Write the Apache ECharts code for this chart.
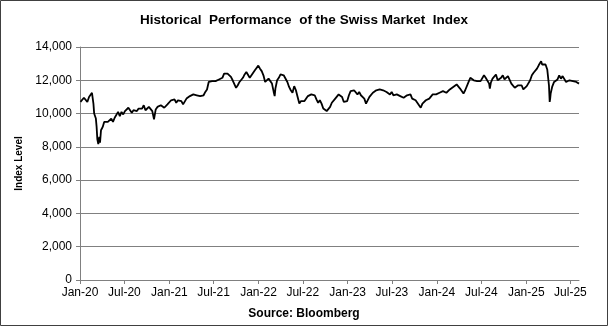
<!DOCTYPE html>
<html><head><meta charset="utf-8">
<script src="https://cdn.jsdelivr.net/npm/echarts@6/dist/echarts.min.js"></script>
<style>html,body{margin:0;padding:0;background:#fff}#c{width:608px;height:326px}</style>
</head><body><div id="c"></div>
<script>
const dates = [
'2020-01-03','2020-01-10','2020-01-17','2020-01-24','2020-01-31','2020-02-07','2020-02-14','2020-02-19','2020-02-21','2020-02-25','2020-02-28',
'2020-03-03','2020-03-06','2020-03-09','2020-03-12','2020-03-16','2020-03-18','2020-03-20','2020-03-23','2020-03-27',
'2020-04-03','2020-04-09','2020-04-17','2020-04-24','2020-05-01','2020-05-08','2020-05-15','2020-05-22','2020-05-29',
'2020-06-05','2020-06-12','2020-06-19','2020-06-26','2020-07-03','2020-07-10','2020-07-17','2020-07-24','2020-07-31',
'2020-08-07','2020-08-14','2020-08-21','2020-08-28','2020-09-04','2020-09-11','2020-09-18','2020-09-25',
'2020-10-02','2020-10-09','2020-10-16','2020-10-23','2020-10-30','2020-11-06','2020-11-13','2020-11-20','2020-11-27',
'2020-12-04','2020-12-11','2020-12-18','2020-12-24',
'2021-01-08','2021-01-15','2021-01-22','2021-01-29','2021-02-05','2021-02-12','2021-02-19','2021-02-26',
'2021-03-05','2021-03-12','2021-03-19','2021-03-26','2021-04-02','2021-04-09','2021-04-16','2021-04-23','2021-04-30',
'2021-05-07','2021-05-14','2021-05-21','2021-05-28','2021-06-04','2021-06-11','2021-06-18','2021-06-25',
'2021-07-02','2021-07-09','2021-07-16','2021-07-23','2021-07-30','2021-08-06','2021-08-13','2021-08-20','2021-08-27',
'2021-09-03','2021-09-10','2021-09-17','2021-09-24','2021-10-01','2021-10-08','2021-10-15','2021-10-22','2021-10-29',
'2021-11-05','2021-11-12','2021-11-19','2021-11-26','2021-12-03','2021-12-10','2021-12-17','2021-12-24','2021-12-31',
'2022-01-07','2022-01-14','2022-01-21','2022-01-28','2022-02-04','2022-02-11','2022-02-18','2022-02-25',
'2022-03-04','2022-03-08','2022-03-11','2022-03-18','2022-03-25','2022-04-01','2022-04-08','2022-04-14','2022-04-22','2022-04-29',
'2022-05-06','2022-05-13','2022-05-20','2022-05-27','2022-06-03','2022-06-10','2022-06-17','2022-06-24',
'2022-07-01','2022-07-08','2022-07-15','2022-07-22','2022-07-29','2022-08-05','2022-08-12','2022-08-19','2022-08-26',
'2022-09-02','2022-09-09','2022-09-16','2022-09-23','2022-09-30','2022-10-07','2022-10-13','2022-10-21','2022-10-28',
'2022-11-04','2022-11-11','2022-11-18','2022-11-25','2022-12-02','2022-12-09','2022-12-16','2022-12-23','2022-12-30',
'2023-01-06','2023-01-13','2023-01-20','2023-01-27','2023-02-03','2023-02-10','2023-02-17','2023-02-24',
'2023-03-03','2023-03-10','2023-03-17','2023-03-24','2023-03-31','2023-04-07','2023-04-14','2023-04-21','2023-04-28',
'2023-05-05','2023-05-12','2023-05-19','2023-05-26','2023-06-02','2023-06-09','2023-06-16','2023-06-23','2023-06-30',
'2023-07-07','2023-07-14','2023-07-21','2023-07-28','2023-08-04','2023-08-11','2023-08-18','2023-08-25',
'2023-09-01','2023-09-08','2023-09-15','2023-09-22','2023-09-29','2023-10-06','2023-10-13','2023-10-20','2023-10-27',
'2023-11-03','2023-11-10','2023-11-17','2023-11-24','2023-12-01','2023-12-08','2023-12-15','2023-12-22','2023-12-29',
'2024-01-05','2024-01-12','2024-01-19','2024-01-26','2024-02-02','2024-02-09','2024-02-16','2024-02-23',
'2024-03-01','2024-03-08','2024-03-15','2024-03-22','2024-03-28','2024-04-05','2024-04-12','2024-04-19','2024-04-26',
'2024-05-03','2024-05-10','2024-05-17','2024-05-24','2024-05-31','2024-06-07','2024-06-14','2024-06-21','2024-06-28',
'2024-07-05','2024-07-12','2024-07-19','2024-07-26','2024-08-02','2024-08-05','2024-08-09','2024-08-16','2024-08-23','2024-08-30',
'2024-09-06','2024-09-13','2024-09-20','2024-09-27','2024-10-04','2024-10-11','2024-10-18','2024-10-25',
'2024-11-01','2024-11-08','2024-11-15','2024-11-22','2024-11-29','2024-12-06','2024-12-13','2024-12-20','2024-12-27',
'2025-01-03','2025-01-10','2025-01-17','2025-01-24','2025-01-31','2025-02-07','2025-02-14','2025-02-21','2025-02-28',
'2025-03-03','2025-03-07','2025-03-14','2025-03-21','2025-03-28','2025-04-02','2025-04-04','2025-04-07','2025-04-09','2025-04-11','2025-04-17','2025-04-25',
'2025-05-02','2025-05-09','2025-05-16','2025-05-23','2025-05-30','2025-06-06','2025-06-13','2025-06-20','2025-06-27',
'2025-07-04','2025-07-11','2025-07-18','2025-07-25','2025-08-01','2025-08-05'
];
const values = [
10700,10800,10950,10850,10700,11000,11100,11250,11150,10600,10000,
10100,9700,9200,8450,8160,8350,8600,8250,9000,
9200,9500,9600,9500,9450,9700,9500,9750,9850,
10100,9850,10100,9950,10150,10200,10350,10200,10050,
10200,10250,10150,10300,10350,10300,10500,10200,
10300,10400,10300,10150,9650,10250,10400,10450,10500,
10400,10350,10450,10550,
10800,10900,10850,10650,10800,10850,10750,10550,
10650,10900,10950,11050,11100,11150,11200,11100,11050,
11050,10950,11100,11300,11450,11900,11950,11950,
12000,11950,12000,12050,12100,12150,12400,12350,12400,
12400,12200,12000,11900,11550,11700,11900,12000,12150,
12350,12500,12550,12150,12200,12450,12600,12650,12880,
12700,12550,12300,11900,12000,12100,12000,11800,
11300,11050,11500,12000,12150,12350,12450,12300,12200,11900,
11600,11400,11250,11650,11400,11000,10600,10750,
10800,10750,10750,11050,11100,11150,11250,11100,10850,
10650,10800,10600,10300,10250,10150,10100,10400,10650,
10700,10900,10950,11150,11050,11000,10700,10800,10750,
11100,11350,11300,11400,11300,11150,11300,11100,
11200,10900,10600,10600,11000,11100,11250,11300,11400,
11500,11450,11550,11400,11300,11300,11250,11150,11300,
11100,11200,11150,11250,11050,11100,10950,11000,
11100,11050,11150,10900,10850,10800,10900,10500,10350,
10600,10650,10800,10850,10900,11000,11150,11150,11150,
11100,11250,11150,11350,11350,11250,11300,11450,
11450,11600,11700,11750,11650,11500,11400,11200,11400,
11500,11900,12150,12050,12000,12050,11950,12000,11950,
12050,12300,12150,12050,11800,11500,11850,12100,12200,12350,
12000,12100,12150,12300,12050,12150,12250,12150,
11800,11800,11550,11650,11700,11800,11700,11450,11550,
11650,11750,12000,12300,12450,12550,12700,12900,13000,
13150,12950,12900,12950,12650,12600,11700,10700,10900,11200,11600,11900,
12000,12050,12300,12100,12250,12200,11900,11900,12000,
11950,11950,11950,11900,11800,11800
];
const tickDates = ['2020-01-01','2020-07-01','2021-01-01','2021-07-01','2022-01-01','2022-07-01','2023-01-01','2023-07-01','2024-01-01','2024-07-01','2025-01-01','2025-07-01'];
const tickLabels = ['Jan-20','Jul-20','Jan-21','Jul-21','Jan-22','Jul-22','Jan-23','Jul-23','Jan-24','Jul-24','Jan-25','Jul-25'];

function dayNum(s){const p=s.split('-').map(Number);return (Date.UTC(p[0],p[1]-1,p[2])-Date.UTC(2020,0,1))/864e5;}
const tickDays = tickDates.map(dayNum);
const labelMap = {}; tickDays.forEach((d,i)=>labelMap[d]=tickLabels[i]);
const seriesData = dates.map((d,i)=>[dayNum(d), values[i]]);
const FONT = '"Liberation Sans", Arial, sans-serif';

const chart = echarts.init(document.getElementById('c'), null, {renderer:'canvas'});
chart.setOption({
  animation:false,
  backgroundColor:'#fff',
  title:[
    {text:'Historical  Performance  of the Swiss Market  Index', left:'center', top:13, padding:0,
     textStyle:{fontFamily:FONT, fontSize:13.5, fontWeight:'bold', color:'#000'}},
    {text:'Source: Bloomberg', left:'center', top:308, padding:0,
     textStyle:{fontFamily:FONT, fontSize:12, fontWeight:'bold', color:'#000'}}
  ],
  graphic:[{type:'rect', shape:{x:0.5,y:0.5,width:607,height:325}, style:{fill:null, stroke:'#404040', lineWidth:1}, silent:true}],
  grid:{left:80, right:29, top:47, bottom:46, containLabel:false},
  xAxis:{
    type:'value', min:0, max:dayNum(dates[dates.length-1]),
    axisLine:{lineStyle:{color:'#808080', width:1}},
    axisTick:{show:true, length:4, customValues:tickDays, lineStyle:{color:'#808080'}},
    axisLabel:{customValues:tickDays, formatter:v=>labelMap[v]||'', fontFamily:FONT, fontSize:12, color:'#000', margin:7},
    splitLine:{show:false}
  },
  yAxis:{
    type:'value', min:0, max:14000, interval:2000,
    name:'Index Level', nameLocation:'middle', nameRotate:90, nameGap:48,
    nameTextStyle:{fontFamily:FONT, fontSize:10, fontWeight:'bold', color:'#000'},
    axisLine:{show:true, lineStyle:{color:'#808080', width:1}},
    axisTick:{show:true, length:4, lineStyle:{color:'#808080'}},
    axisLabel:{formatter:v=>v.toLocaleString('en-US'), fontFamily:FONT, fontSize:12, color:'#000', margin:8},
    splitLine:{show:true, lineStyle:{color:'#808080', width:1}}
  },
  series:[{type:'line', data:seriesData, showSymbol:false, symbol:'none', lineStyle:{color:'#000', width:1.8}, z:3}]
});
</script></body></html>
